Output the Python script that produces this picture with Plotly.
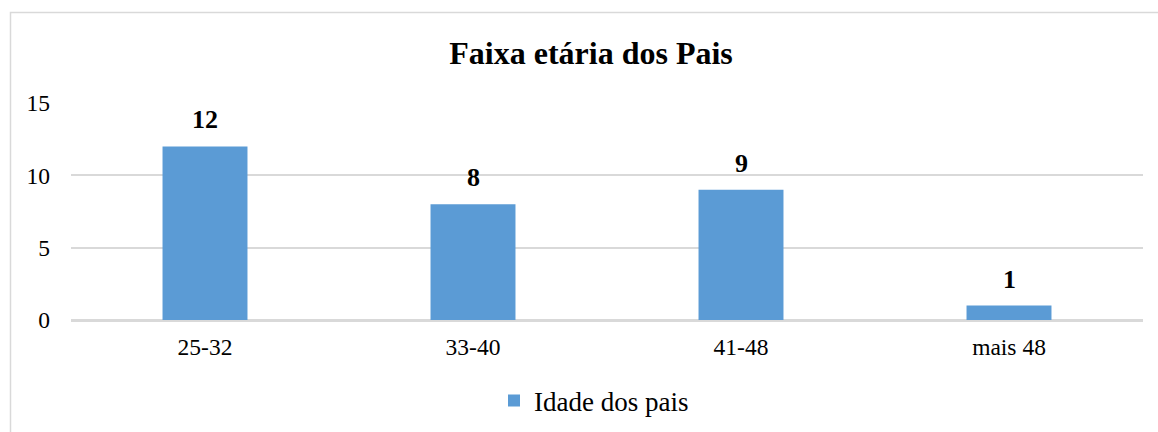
import plotly.graph_objects as go

categories = ["25-32", "33-40", "41-48", "mais 48"]
values = [12, 8, 9, 1]
series_name = "Idade dos pais"
title_text = "Faixa etária dos Pais"
y_ticks = [0, 5, 10, 15]

FONT = "Liberation Serif, Times New Roman, serif"
BAR = "#5B9BD5"
GRID = "#D9D9D9"

fig = go.Figure()
fig.add_trace(go.Bar(
    x=categories, y=values, name=series_name,
    marker=dict(color=BAR, line=dict(width=0)),
    showlegend=True,
))

for c, v in zip(categories, values):
    fig.add_annotation(
        x=c, y=v, text=f"<b>{v}</b>", showarrow=False,
        yanchor="bottom", yshift=10,
        font=dict(family=FONT, size=26, color="#000000"),
    )

W, H = 1158, 432
L, R, T, B = 71, 15, 103, 112
pw = W - L - R
ph = H - T - B

# outer chart border (light gray frame)
fig.add_shape(
    type="rect", xref="paper", yref="paper",
    x0=(10.5 - L) / pw, x1=(W + 20 - L) / pw,
    y0=-(H + 20 - (H - B)) / ph, y1=((H - B) - 12.5) / ph,
    line=dict(color=GRID, width=1.5), fillcolor="rgba(0,0,0,0)",
    layer="below",
)

fig.update_layout(
    width=W, height=H,
    margin=dict(l=L, r=R, t=T, b=B, autoexpand=False),
    paper_bgcolor="white", plot_bgcolor="white",
    font=dict(family=FONT, color="#000000"),
    title=dict(
        text=f"<b>{title_text}</b>", x=591 / W, xref="container",
        y=1 - 53 / H, yref="container", yanchor="middle", xanchor="center",
        font=dict(family=FONT, size=32, color="#000000"),
    ),
    bargap=0.683,
    showlegend=True,
    legend=dict(
        orientation="h", x=(594 - L) / pw, xanchor="center",
        y=-(401 - (H - B)) / ph, yanchor="middle",
        font=dict(family=FONT, size=27, color="#000000"),
        bgcolor="rgba(0,0,0,0)",
    ),
    xaxis=dict(
        showgrid=False, showline=True, linecolor=GRID, linewidth=1.5,
        ticks="", tickfont=dict(family=FONT, size=23.5, color="#000000"),
        ticklabelstandoff=5,
    ),
    yaxis=dict(
        range=[0, 15], tickvals=y_ticks, showgrid=True, gridcolor=GRID,
        gridwidth=1.5, zeroline=True, zerolinecolor=GRID, zerolinewidth=1.5,
        showline=False, ticks="", ticklabelstandoff=20,
        tickfont=dict(family=FONT, size=23.5, color="#000000"),
    ),
)

fig.write_html(
    "out.html",
    config={"displayModeBar": False},
    post_script="document.body.style.margin='0';document.body.style.overflow='hidden';",
)
